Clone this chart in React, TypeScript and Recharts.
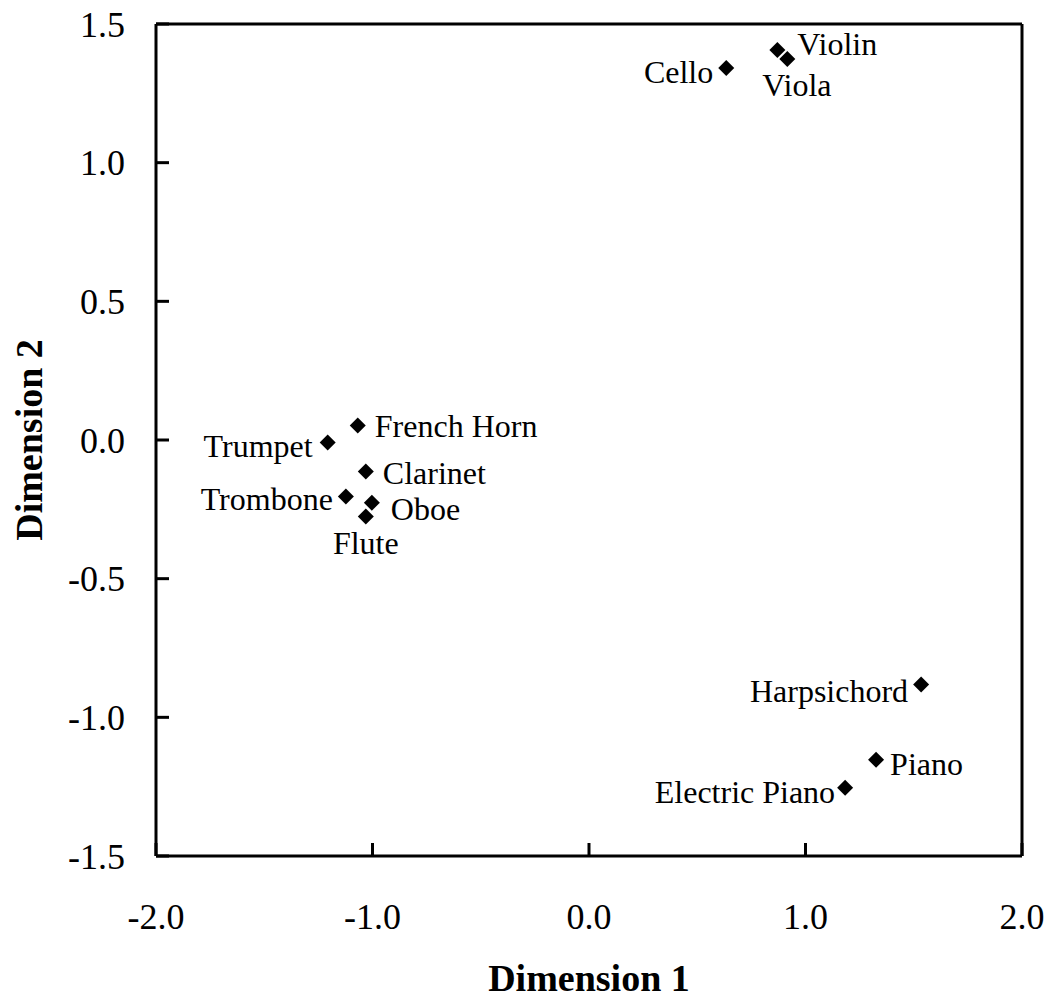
import { ScatterChart, Scatter, XAxis, YAxis, ReferenceLine, Label } from "recharts"

const instruments = [
  "Violin", "Viola", "Cello", "French Horn", "Trumpet", "Clarinet",
  "Trombone", "Oboe", "Flute", "Harpsichord", "Piano", "Electric Piano",
]
const dimension1 = [0.87, 0.916, 0.634, -1.068, -1.207, -1.031, -1.123, -1.003, -1.031, 1.534, 1.326, 1.183]
const dimension2 = [1.406, 1.374, 1.341, 0.052, -0.009, -0.114, -0.204, -0.226, -0.276, -0.882, -1.153, -1.254]
const xTicks = [-2, -1, 0, 1, 2]
const yTicks = [-1.5, -1, -0.5, 0, 0.5, 1, 1.5]

const data = instruments.map((name, i) => ({ name, x: dimension1[i], y: dimension2[i] }))

// where each point's label sits relative to its marker
const labelPlacement: Record<string, { dx: number; dy: number; anchor: string }> = {
  Violin: { dx: 20, dy: 5, anchor: "start" },
  Viola: { dx: -25, dy: 37, anchor: "start" },
  Cello: { dx: -13, dy: 15, anchor: "end" },
  "French Horn": { dx: 17, dy: 11, anchor: "start" },
  Trumpet: { dx: -15, dy: 15, anchor: "end" },
  Clarinet: { dx: 17, dy: 12, anchor: "start" },
  Trombone: { dx: -13, dy: 13, anchor: "end" },
  Oboe: { dx: 19, dy: 17, anchor: "start" },
  Flute: { dx: 0, dy: 37, anchor: "middle" },
  Harpsichord: { dx: -13, dy: 17, anchor: "end" },
  Piano: { dx: 14, dy: 15, anchor: "start" },
  "Electric Piano": { dx: -10, dy: 15, anchor: "end" },
}

const font = "'Liberation Serif', 'Times New Roman', serif"

function Marker(props: any) {
  const { cx, cy, payload } = props
  const p = labelPlacement[payload.name]
  const r = 8
  return (
    <g>
      <polygon
        points={`${cx},${cy - r} ${cx + r},${cy} ${cx},${cy + r} ${cx - r},${cy}`}
        fill="#000"
      />
      <text
        x={cx + p.dx}
        y={cy + p.dy}
        textAnchor={p.anchor as any}
        fontSize={32}
        fontFamily={font}
        fill="#000"
      >
        {payload.name}
      </text>
    </g>
  )
}

export default function App() {
  const tickStyle = { fontSize: 36, fontFamily: font, fill: "#000" }
  return (
    <div style={{ position: "absolute", left: 0, top: 0, background: "#fff", fontFamily: font }}>
      <ScatterChart width={1053} height={1003} margin={{ top: 24, right: 31, bottom: 0, left: 0 }}>
        <XAxis
          type="number"
          dataKey="x"
          domain={[-2, 2]}
          ticks={xTicks}
          tickFormatter={(v: number) => v.toFixed(1)}
          height={147}
          tickSize={-13}
          tickMargin={60}
          tick={tickStyle}
          axisLine={{ stroke: "#000", strokeWidth: 3 }}
          tickLine={{ stroke: "#000", strokeWidth: 3 }}
          allowDataOverflow
        >
          <Label
            value="Dimension 1"
            position="insideBottom"
            offset={12}
            style={{ fontSize: 38, fontWeight: "bold", fontFamily: font, fill: "#000" }}
          />
        </XAxis>
        <YAxis
          type="number"
          dataKey="y"
          domain={[-1.5, 1.5]}
          ticks={yTicks}
          tickFormatter={(v: number) => v.toFixed(1)}
          width={156}
          tickSize={-13}
          tickMargin={44}
          tick={tickStyle}
          axisLine={{ stroke: "#000", strokeWidth: 3 }}
          tickLine={{ stroke: "#000", strokeWidth: 3 }}
          allowDataOverflow
        >
          <Label
            content={(props: any) => {
              const vb = props.viewBox || {}
              const cy = (vb.y ?? 24) + (vb.height ?? 832) / 2
              return (
                <text
                  transform={`translate(42, ${cy}) rotate(-90)`}
                  textAnchor="middle"
                  fontSize={38}
                  fontWeight="bold"
                  fontFamily={font}
                  fill="#000"
                >
                  Dimension 2
                </text>
              )
            }}
          />
        </YAxis>
        <ReferenceLine y={1.5} stroke="#000" strokeWidth={3} />
        <ReferenceLine x={2} stroke="#000" strokeWidth={3} />
        <Scatter data={data} shape={Marker} isAnimationActive={false} />
      </ScatterChart>
    </div>
  )
}
